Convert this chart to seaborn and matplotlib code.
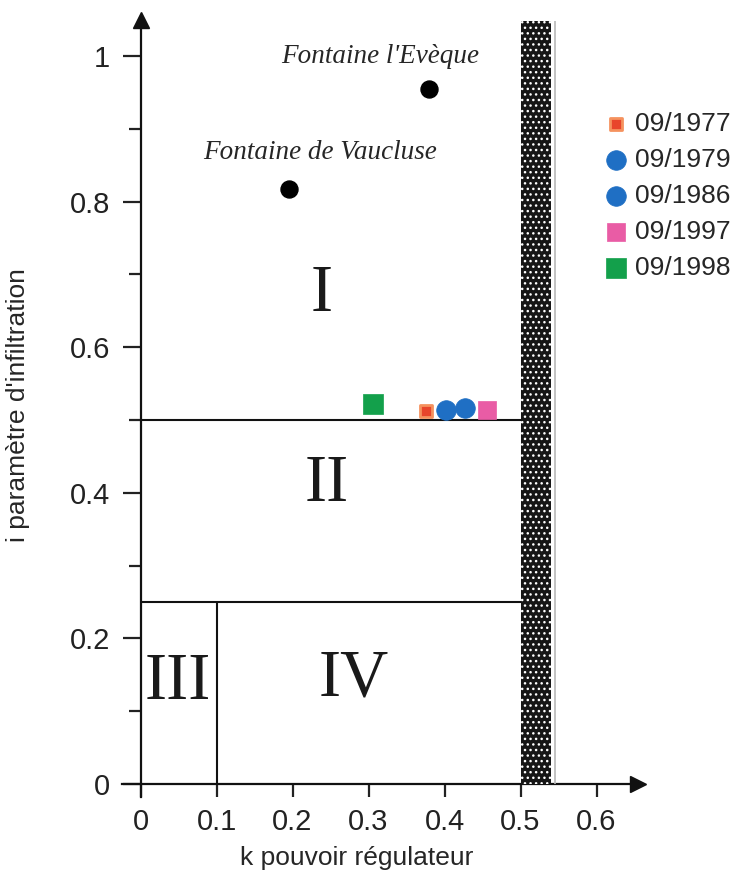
## Diagramme k / i : classes de systèmes karstiques (pouvoir régulateur vs infiltration)
import numpy as np
import matplotlib
matplotlib.use("Agg")
import matplotlib.pyplot as plt
import seaborn as sns

## Data
sources = ["Fontaine de Vaucluse", "Fontaine l'Evèque"]
src_k = [0.196, 0.380]
src_i = [0.817, 0.955]

dates = ["09/1977", "09/1979", "09/1986", "09/1997", "09/1998"]
date_k = [0.376, 0.402, 0.427, 0.456, 0.306]
date_i = [0.512, 0.514, 0.516, 0.514, 0.522]
date_colors = ["#e8452b", "#1f6fc4", "#1f6fc4", "#e95ca5", "#13a04b"]
date_edges = ["#f5925e", "#1f6fc4", "#1f6fc4", "#e95ca5", "#13a04b"]
date_markers = ["s", "o", "o", "s", "s"]
date_sizes = [75, 200, 200, 170, 200]

zone_names = ["I", "II", "III", "IV"]
zone_k = [0.239, 0.245, 0.049, 0.281]
zone_i = [0.672, 0.412, 0.140, 0.144]

i_limits = [0.5, 0.25]    # horizontal limits between classes
k_limit = 0.1             # III / IV
k_max = 0.5               # start of the shaded band
k_band = 0.54

x_ticks = [0, 0.1, 0.2, 0.3, 0.4, 0.5, 0.6]
x_labels = ["0", "0.1", "0.2", "0.3", "0.4", "0.5", "0.6"]
y_ticks = [0, 0.2, 0.4, 0.6, 0.8, 1.0]
y_labels = ["0", "0.2", "0.4", "0.6", "0.8", "1"]

sns.set_style("white")
plt.rcParams["font.family"] = ["Liberation Sans", "DejaVu Sans"]
plt.rcParams["hatch.linewidth"] = 1.0

fig = plt.figure(figsize=(7.39, 8.82), dpi=100)
ax = fig.add_axes([0.1593, 0.0864, 0.7302, 0.912])
ax.set_xlim(-0.03, 0.68)
ax.set_ylim(-0.03, 1.075)

# axes through the origin with arrows
for s in ["top", "right"]:
    ax.spines[s].set_visible(False)
ax.spines["left"].set_position(("data", 0))
ax.spines["bottom"].set_position(("data", 0))
ax.spines["left"].set_bounds(-0.018, 1.05)
ax.spines["bottom"].set_bounds(-0.024, 0.655)
for s in ["left", "bottom"]:
    ax.spines[s].set_linewidth(1.6)
    ax.spines[s].set_color("#111111")
ax.plot(0.655, 0, ">", color="#111111", ms=11, clip_on=False)
ax.plot(0, 1.05, "^", color="#111111", ms=11, clip_on=False)

ax.set_xticks(x_ticks)
ax.set_xticklabels(x_labels)
ax.set_yticks(y_ticks)
ax.set_yticklabels(y_labels)
ax.set_yticks(np.arange(0.1, 1.0, 0.2), minor=True)
ax.tick_params(axis="y", which="major", direction="out", length=13, width=1.6,
               pad=9, labelsize=21, left=True, color="#111111")
ax.tick_params(axis="y", which="minor", direction="out", length=8.5, width=1.6,
               left=True, color="#111111")
ax.tick_params(axis="x", which="major", direction="out", length=9.5, width=1.6,
               pad=8, labelsize=21, bottom=True, color="#111111")
ax.tick_params(colors="#222222", which="both")

# class boundaries
for lim in i_limits:
    ax.hlines(lim, 0, k_max, color="#111111", lw=1.5)
ax.vlines(k_limit, 0, i_limits[1], color="#111111", lw=1.5)

# shaded band k > 0.5
ax.fill_between([k_max, k_band], 0, 1.048, facecolor="#161616", edgecolor="white",
                hatch="...", lw=0, zorder=3)
ax.vlines(0.546, 0, 1.048, color="#b8b8b8", lw=1.2, zorder=3)

# class labels
for name, k, i in zip(zone_names, zone_k, zone_i):
    ax.text(k, i, name, ha="center", va="center", fontsize=48,
            family=["Liberation Serif", "DejaVu Serif"], color="#1a1a1a")

# springs
sns.scatterplot(x=src_k, y=src_i, color="black", s=150, edgecolor="black", ax=ax,
                legend=False, zorder=5)
ax.text(0.236, 0.868, sources[0], ha="center", va="center", fontsize=19.5,
        style="italic", family=["Liberation Serif", "DejaVu Serif"])
ax.text(0.315, 0.999, sources[1], ha="center", va="center", fontsize=19.5,
        style="italic", family=["Liberation Serif", "DejaVu Serif"])

# measurements
for lab, k, i, c, ec, m, sz in zip(dates, date_k, date_i, date_colors, date_edges,
                                   date_markers, date_sizes):
    sns.scatterplot(x=[k], y=[i], color=c, edgecolor=ec, linewidth=2 if ec != c else 0.5,
                    marker=m, s=sz, label=lab, ax=ax, zorder=6)

ax.legend(loc="upper left", bbox_to_anchor=(590 / 739, 1 - 99 / 882),
          bbox_transform=fig.transFigure, frameon=False,
          prop={"family": ["Liberation Sans", "DejaVu Sans"], "size": 19},
          handletextpad=0.2, labelspacing=0.45, borderpad=0, handlelength=1.0)

ax.set_xlabel("k pouvoir régulateur", fontsize=19, va="center")
ax.set_ylabel("i paramètre d'infiltration", fontsize=19)
ax.xaxis.set_label_coords((357 - 117.7) / 539.6, -(858 - 805.8) / 804.4)
ax.yaxis.set_label_coords(-(117.7 - 30) / 539.6, (882 - 405 - 76.2) / 804.4)

plt.savefig("out.png", dpi=100)
